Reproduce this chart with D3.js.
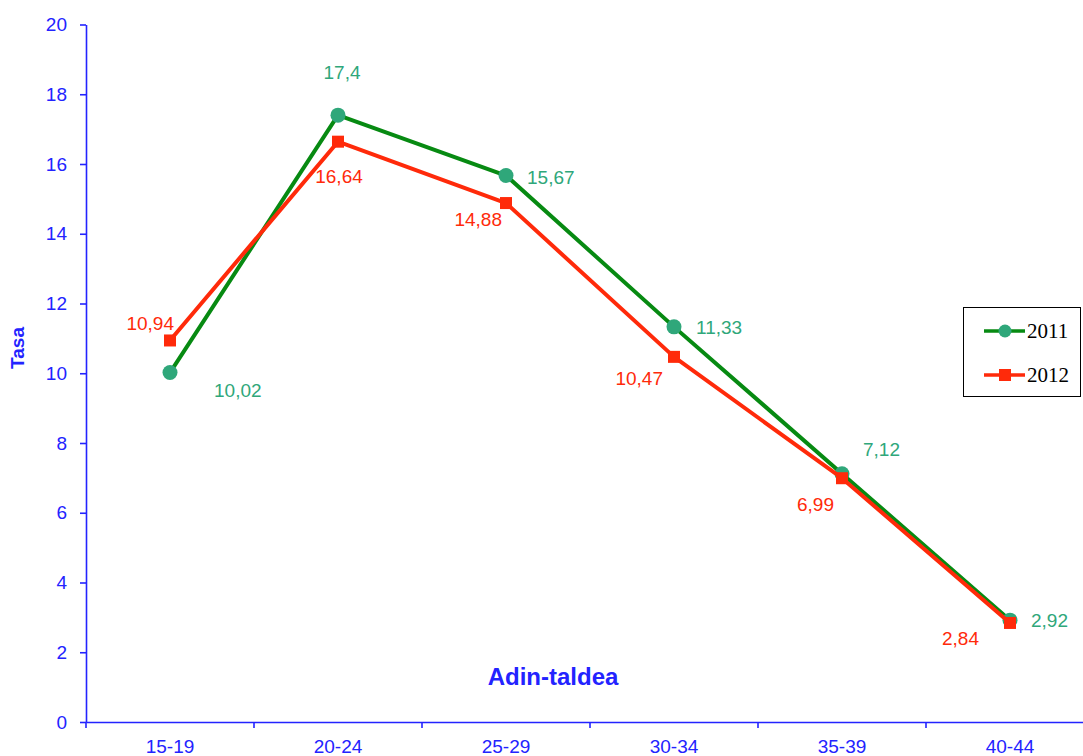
<!DOCTYPE html>
<html>
<head>
<meta charset="utf-8">
<script src="https://cdn.jsdelivr.net/npm/d3@7"></script>
<style>
  html, body { margin: 0; padding: 0; background: #fff; }
  svg { display: block; }
</style>
</head>
<body>
<svg id="chart" width="1083" height="756"></svg>
<script>
// Age groups and fertility rates per year
const categories = ["15-19", "20-24", "25-29", "30-34", "35-39", "40-44"];
const rates2011 = [10.02, 17.4, 15.67, 11.33, 7.12, 2.92];
const rates2012 = [10.94, 16.64, 14.88, 10.47, 6.99, 2.84];
const yTicks = [0, 2, 4, 6, 8, 10, 12, 14, 16, 18, 20];

// Label placement for each point (offset from the marker, text anchor)
const labelPlace2011 = [
  { dx: 44, dy: 24, anchor: "start" },
  { dx: 4, dy: -36, anchor: "middle" },
  { dx: 21, dy: 8, anchor: "start" },
  { dx: 22, dy: 7, anchor: "start" },
  { dx: 21, dy: -18, anchor: "start" },
  { dx: 21, dy: 7, anchor: "start" }
];
const labelPlace2012 = [
  { dx: 4, dy: -10, anchor: "end" },
  { dx: 1, dy: 41, anchor: "middle" },
  { dx: -4, dy: 23, anchor: "end" },
  { dx: -11, dy: 28, anchor: "end" },
  { dx: -8, dy: 33, anchor: "end" },
  { dx: -31, dy: 22, anchor: "end" }
];

const axisBlue = "#2323ff";
const fmt = v => String(v).replace(".", ",");

const svg = d3.select("#chart");
const x0 = 86, xEnd = 86 + 168 * 6, yTop = 24.5, yBottom = 722;

const x = d3.scaleBand().domain(categories).range([x0, xEnd]);
const y = d3.scaleLinear().domain([0, 20]).range([yBottom, yTop]);

// Y axis
const yAxis = svg.append("g")
  .attr("transform", `translate(${x0},0)`)
  .call(d3.axisLeft(y).tickValues(yTicks).tickSize(6).tickSizeOuter(0).tickPadding(13));
yAxis.select(".domain").attr("stroke", axisBlue).attr("stroke-width", 1.6);
yAxis.selectAll(".tick line").attr("stroke", axisBlue).attr("stroke-width", 1.6);
yAxis.selectAll(".tick text")
  .attr("fill", axisBlue)
  .style("font-family", "Liberation Sans, Arial, sans-serif")
  .style("font-size", "19px");

// X axis with ticks between the groups
const xAxis = svg.append("g")
  .attr("transform", `translate(0,${yBottom})`)
  .call(d3.axisBottom(x).tickSize(0).tickSizeOuter(0).tickPadding(18));
xAxis.select(".domain").attr("stroke", axisBlue).attr("stroke-width", 1.6);
xAxis.selectAll(".tick text")
  .attr("fill", axisBlue)
  .style("font-family", "Liberation Sans, Arial, sans-serif")
  .style("font-size", "19px");
const boundaries = d3.range(categories.length + 1).map(i => x0 + i * x.step());
svg.append("g").selectAll("line").data(boundaries).join("line")
  .attr("x1", d => d).attr("x2", d => d)
  .attr("y1", yBottom).attr("y2", yBottom + 6)
  .attr("stroke", axisBlue).attr("stroke-width", 1.6);

// Axis titles
svg.append("text")
  .attr("transform", "translate(24,348) rotate(-90)")
  .attr("text-anchor", "middle")
  .attr("fill", axisBlue)
  .style("font-family", "Liberation Sans, Arial, sans-serif")
  .style("font-weight", "bold")
  .style("font-size", "19px")
  .text("Tasa");
svg.append("text")
  .attr("x", 553).attr("y", 685)
  .attr("text-anchor", "middle")
  .attr("fill", axisBlue)
  .style("font-family", "Liberation Sans, Arial, sans-serif")
  .style("font-weight", "bold")
  .style("font-size", "24px")
  .text("Adin-taldea");

const cx = c => x(c) + x.bandwidth() / 2;
const line = d3.line().x(d => cx(d.c)).y(d => y(d.v));

const series = [
  { name: "2011", values: rates2011, lineColor: "#078a12", markColor: "#2fa77a", labelColor: "#2fa77a", shape: "circle", place: labelPlace2011 },
  { name: "2012", values: rates2012, lineColor: "#ff2a0a", markColor: "#ff2a0a", labelColor: "#ff2a0a", shape: "square", place: labelPlace2012 }
];

function drawMarker(g, s, px, py, r) {
  if (s.shape === "circle") {
    g.append("circle").attr("cx", px).attr("cy", py).attr("r", r).attr("fill", s.markColor);
  } else {
    g.append("rect").attr("x", px - r).attr("y", py - r).attr("width", 2 * r).attr("height", 2 * r).attr("fill", s.markColor);
  }
}

series.forEach(s => {
  const pts = categories.map((c, i) => ({ c, v: s.values[i] }));
  const g = svg.append("g");
  g.append("path").datum(pts)
    .attr("d", line)
    .attr("fill", "none")
    .attr("stroke", s.lineColor)
    .attr("stroke-width", 4)
    .attr("stroke-linejoin", "round");
  pts.forEach(p => drawMarker(g, s, cx(p.c), y(p.v), s.shape === "circle" ? 7.5 : 6));
});

// Value labels
series.forEach(s => {
  svg.append("g").selectAll("text")
    .data(categories.map((c, i) => ({ c, v: s.values[i], p: s.place[i] })))
    .join("text")
    .attr("x", d => cx(d.c) + d.p.dx)
    .attr("y", d => y(d.v) + d.p.dy)
    .attr("text-anchor", d => d.p.anchor)
    .attr("fill", s.labelColor)
    .style("font-family", "Liberation Sans, Arial, sans-serif")
    .style("font-size", "19px")
    .text(d => fmt(d.v));
});

// Legend
const lg = svg.append("g");
lg.append("rect").attr("x", 963.5).attr("y", 307.5).attr("width", 117).attr("height", 89)
  .attr("fill", "#fff").attr("stroke", "#000").attr("stroke-width", 1);
series.forEach((s, i) => {
  const ly = 331 + i * 44;
  lg.append("line").attr("x1", 984).attr("x2", 1025).attr("y1", ly).attr("y2", ly)
    .attr("stroke", s.lineColor).attr("stroke-width", 3.5);
  drawMarker(lg, s, 1005, ly, s.shape === "circle" ? 6.5 : 6);
  lg.append("text").attr("x", 1027).attr("y", ly + 7)
    .style("font-family", "Liberation Serif, Times New Roman, serif")
    .style("font-size", "21px")
    .attr("fill", "#000")
    .text(s.name);
});
</script>
</body>
</html>
